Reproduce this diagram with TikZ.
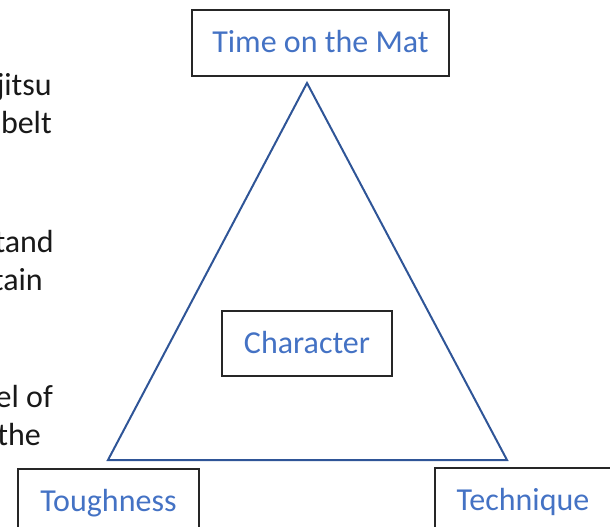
\documentclass[tikz,border=0pt]{standalone}
\usepackage{fontspec}
\setmainfont{Carlito}
\usepackage{xcolor}
\definecolor{titleblue}{HTML}{4472C4}
\definecolor{edgeblue}{HTML}{2F5597}

\begin{document}
\begin{tikzpicture}[x=1pt, y=-1pt,
  corner/.style={rectangle, draw=black!85, line width=1.3pt, text=titleblue, font=\fontsize{32}{38}\selectfont, minimum height=66pt, text height=25.6pt, text depth=6.4pt, inner sep=0pt},
  margin/.style={anchor=base east, inner sep=0pt, font=\fontsize{32}{38}\selectfont, text=black!90}]
\useasboundingbox (0, 0) rectangle (610, 527);
\clip (0, 0) rectangle (610, 527);
% text cut off at the left edge
\node[margin] (jitsu) at (52, 95) {jitsu};
\node[margin] (belt) at (52, 133) {belt};
\node[margin] (tand) at (54, 252) {tand};
\node[margin] (tain) at (43, 290) {tain};
\node[margin] (elof) at (53, 407) {el of};
\node[margin] (the) at (41, 445) {the};
% the triangle
\coordinate (apex) at (307, 83);
\coordinate (left) at (108, 460);
\coordinate (right) at (507, 460);
\draw[edgeblue, line width=2pt] (apex) -- (left) -- (right) -- cycle;
\node[corner, minimum width=257pt] (mat) at (320.5, 43) {Time on the Mat};
\node[corner, minimum width=170pt, minimum height=65pt] (character) at (307, 343.5) {Character};
\node[corner, minimum width=181pt] (toughness) at (108.5, 502) {Toughness};
\node[corner, minimum width=176pt] (technique) at (523, 501) {Technique};
\end{tikzpicture}
\end{document}
